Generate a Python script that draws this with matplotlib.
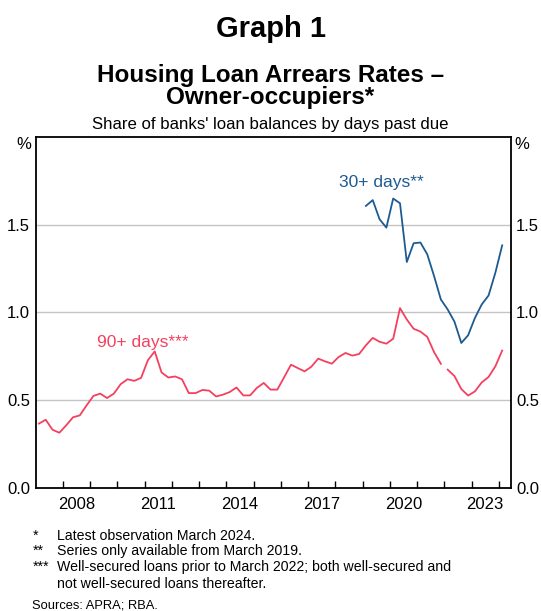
import matplotlib
matplotlib.use("Agg")
import matplotlib.pyplot as plt
import matplotlib.transforms as mtransforms
import numpy as np

plt.rcParams['font.family'] = ['Liberation Sans', 'DejaVu Sans']

# ---------------- data (quarterly, % of loan balances) ----------------
start_year_90_old = 2007   # March quarter 2007
arrears_90_old = [0.365, 0.387, 0.330, 0.313, 0.355, 0.401, 0.412, 0.469,
                  0.523, 0.536, 0.511, 0.536, 0.590, 0.618, 0.609, 0.626,
                  0.727, 0.777, 0.657, 0.628, 0.634, 0.618, 0.539, 0.539,
                  0.557, 0.553, 0.520, 0.530, 0.545, 0.571, 0.526, 0.526,
                  0.569, 0.597, 0.559, 0.559, 0.630, 0.701, 0.682, 0.663,
                  0.690, 0.736, 0.720, 0.707, 0.745, 0.768, 0.753, 0.762,
                  0.812, 0.854, 0.832, 0.821, 0.849, 1.024, 0.959, 0.906,
                  0.890, 0.860, 0.773, 0.706]
start_year_90_new = 2022   # March quarter 2022
arrears_90_new = [0.673, 0.636, 0.562, 0.525, 0.549, 0.600, 0.631, 0.692, 0.782]
start_year_30 = 2019       # March quarter 2019
arrears_30 = [1.607, 1.640, 1.531, 1.483, 1.649, 1.622, 1.287, 1.394, 1.398,
              1.331, 1.207, 1.073, 1.016, 0.946, 0.825, 0.869, 0.968, 1.045,
              1.096, 1.226, 1.382]

year_labels = [2008, 2011, 2014, 2017, 2020, 2023]
y_ticks = [0.0, 0.5, 1.0, 1.5]

title = "Graph 1"
subtitle1 = "Housing Loan Arrears Rates –\nOwner-occupiers*"
subtitle2 = "Share of banks' loan balances by days past due"
notes = [("*", "Latest observation March 2024."),
         ("**", "Series only available from March 2019."),
         ("***", "Well-secured loans prior to March 2022; both well-secured and\nnot well-secured loans thereafter.")]
sources = "Sources: APRA; RBA."


def qtimes(start, n):
    # mid-quarter positions in decimal years
    return start + 0.125 + 0.25 * np.arange(n)


RED = "#f4405f"
BLUE = "#1d5a92"
GRID = "#c4c4c4"

W, H = 541, 611
fig = plt.figure(figsize=(W / 100, H / 100), dpi=100)
left, right, bottom, top = 35.5, 510.5, 487.6, 137.0
ax = fig.add_axes([left / W, 1 - bottom / H, (right - left) / W, (bottom - top) / H])

ax.plot(qtimes(start_year_90_old, len(arrears_90_old)), arrears_90_old, color=RED, lw=1.3)
ax.plot(qtimes(start_year_90_new, len(arrears_90_new)), arrears_90_new, color=RED, lw=1.3)
ax.plot(qtimes(start_year_30, len(arrears_30)), arrears_30, color=BLUE, lw=1.3)

ax.set_xlim(2007.0, 2024.43)
ax.set_ylim(0, 2.0)

for v in y_ticks[1:]:
    ax.axhline(v, color=GRID, lw=1.0, zorder=0)

ax.set_yticks(y_ticks)
ax.set_yticklabels([f"{v:.1f}" for v in y_ticks])
ax.tick_params(axis='y', length=0, pad=4, labelsize=12, labelright=True, right=False)

ax.set_xticks(np.arange(2008, 2025))
ax.set_xticklabels([])
ax.tick_params(axis='x', which='major', direction='in', length=5, width=1.0, top=False)
ax.set_xticks([y + 0.5 for y in year_labels], minor=True)
ax.set_xticklabels([str(y) for y in year_labels], minor=True)
ax.tick_params(axis='x', which='minor', length=0, pad=7, labelsize=12)

for s in ax.spines.values():
    s.set_linewidth(1.3)
    s.set_color('black')

# % unit labels
trans_l = mtransforms.blended_transform_factory(ax.transAxes, ax.transData)
ax.text(-0.008, 2.0, "%", transform=trans_l, ha='right', va='top', fontsize=12)
ax.text(1.008, 2.0, "%", transform=trans_l, ha='left', va='top', fontsize=12)

# series labels
ax.text(2019.69, 1.74, "30+ days**", color=BLUE, fontsize=12.5, ha='center', va='center')
ax.text(2010.94, 0.83, "90+ days***", color=RED, fontsize=12.5, ha='center', va='center')

# titles
fig.text(0.5, 1 - 29 / H, title, ha='center', va='center', fontsize=21, fontweight='bold')
fig.text(0.5, 1 - 86.5 / H, subtitle1, ha='center', va='center', fontsize=17.5,
         fontweight='bold', linespacing=0.98)
fig.text(0.5, 1 - 124 / H, subtitle2, ha='center', va='center', fontsize=12.1)

# footnotes
ys = [536, 551, 567]
for (mark, txt), yy in zip(notes, ys):
    if '\n' in txt:
        fig.text(33 / W, 1 - (yy - 7.5) / H, mark, ha='left', va='top', fontsize=10.2)
        fig.text(57 / W, 1 - (yy - 7.5) / H, txt, ha='left', va='top', fontsize=10.2,
                 linespacing=1.3)
    else:
        fig.text(33 / W, 1 - yy / H, mark, ha='left', va='center', fontsize=10.2)
        fig.text(57 / W, 1 - yy / H, txt, ha='left', va='center', fontsize=10.2)
fig.text(32 / W, 1 - 605 / H, sources, ha='left', va='center', fontsize=9.3)

fig.savefig("out.png", dpi=100)
